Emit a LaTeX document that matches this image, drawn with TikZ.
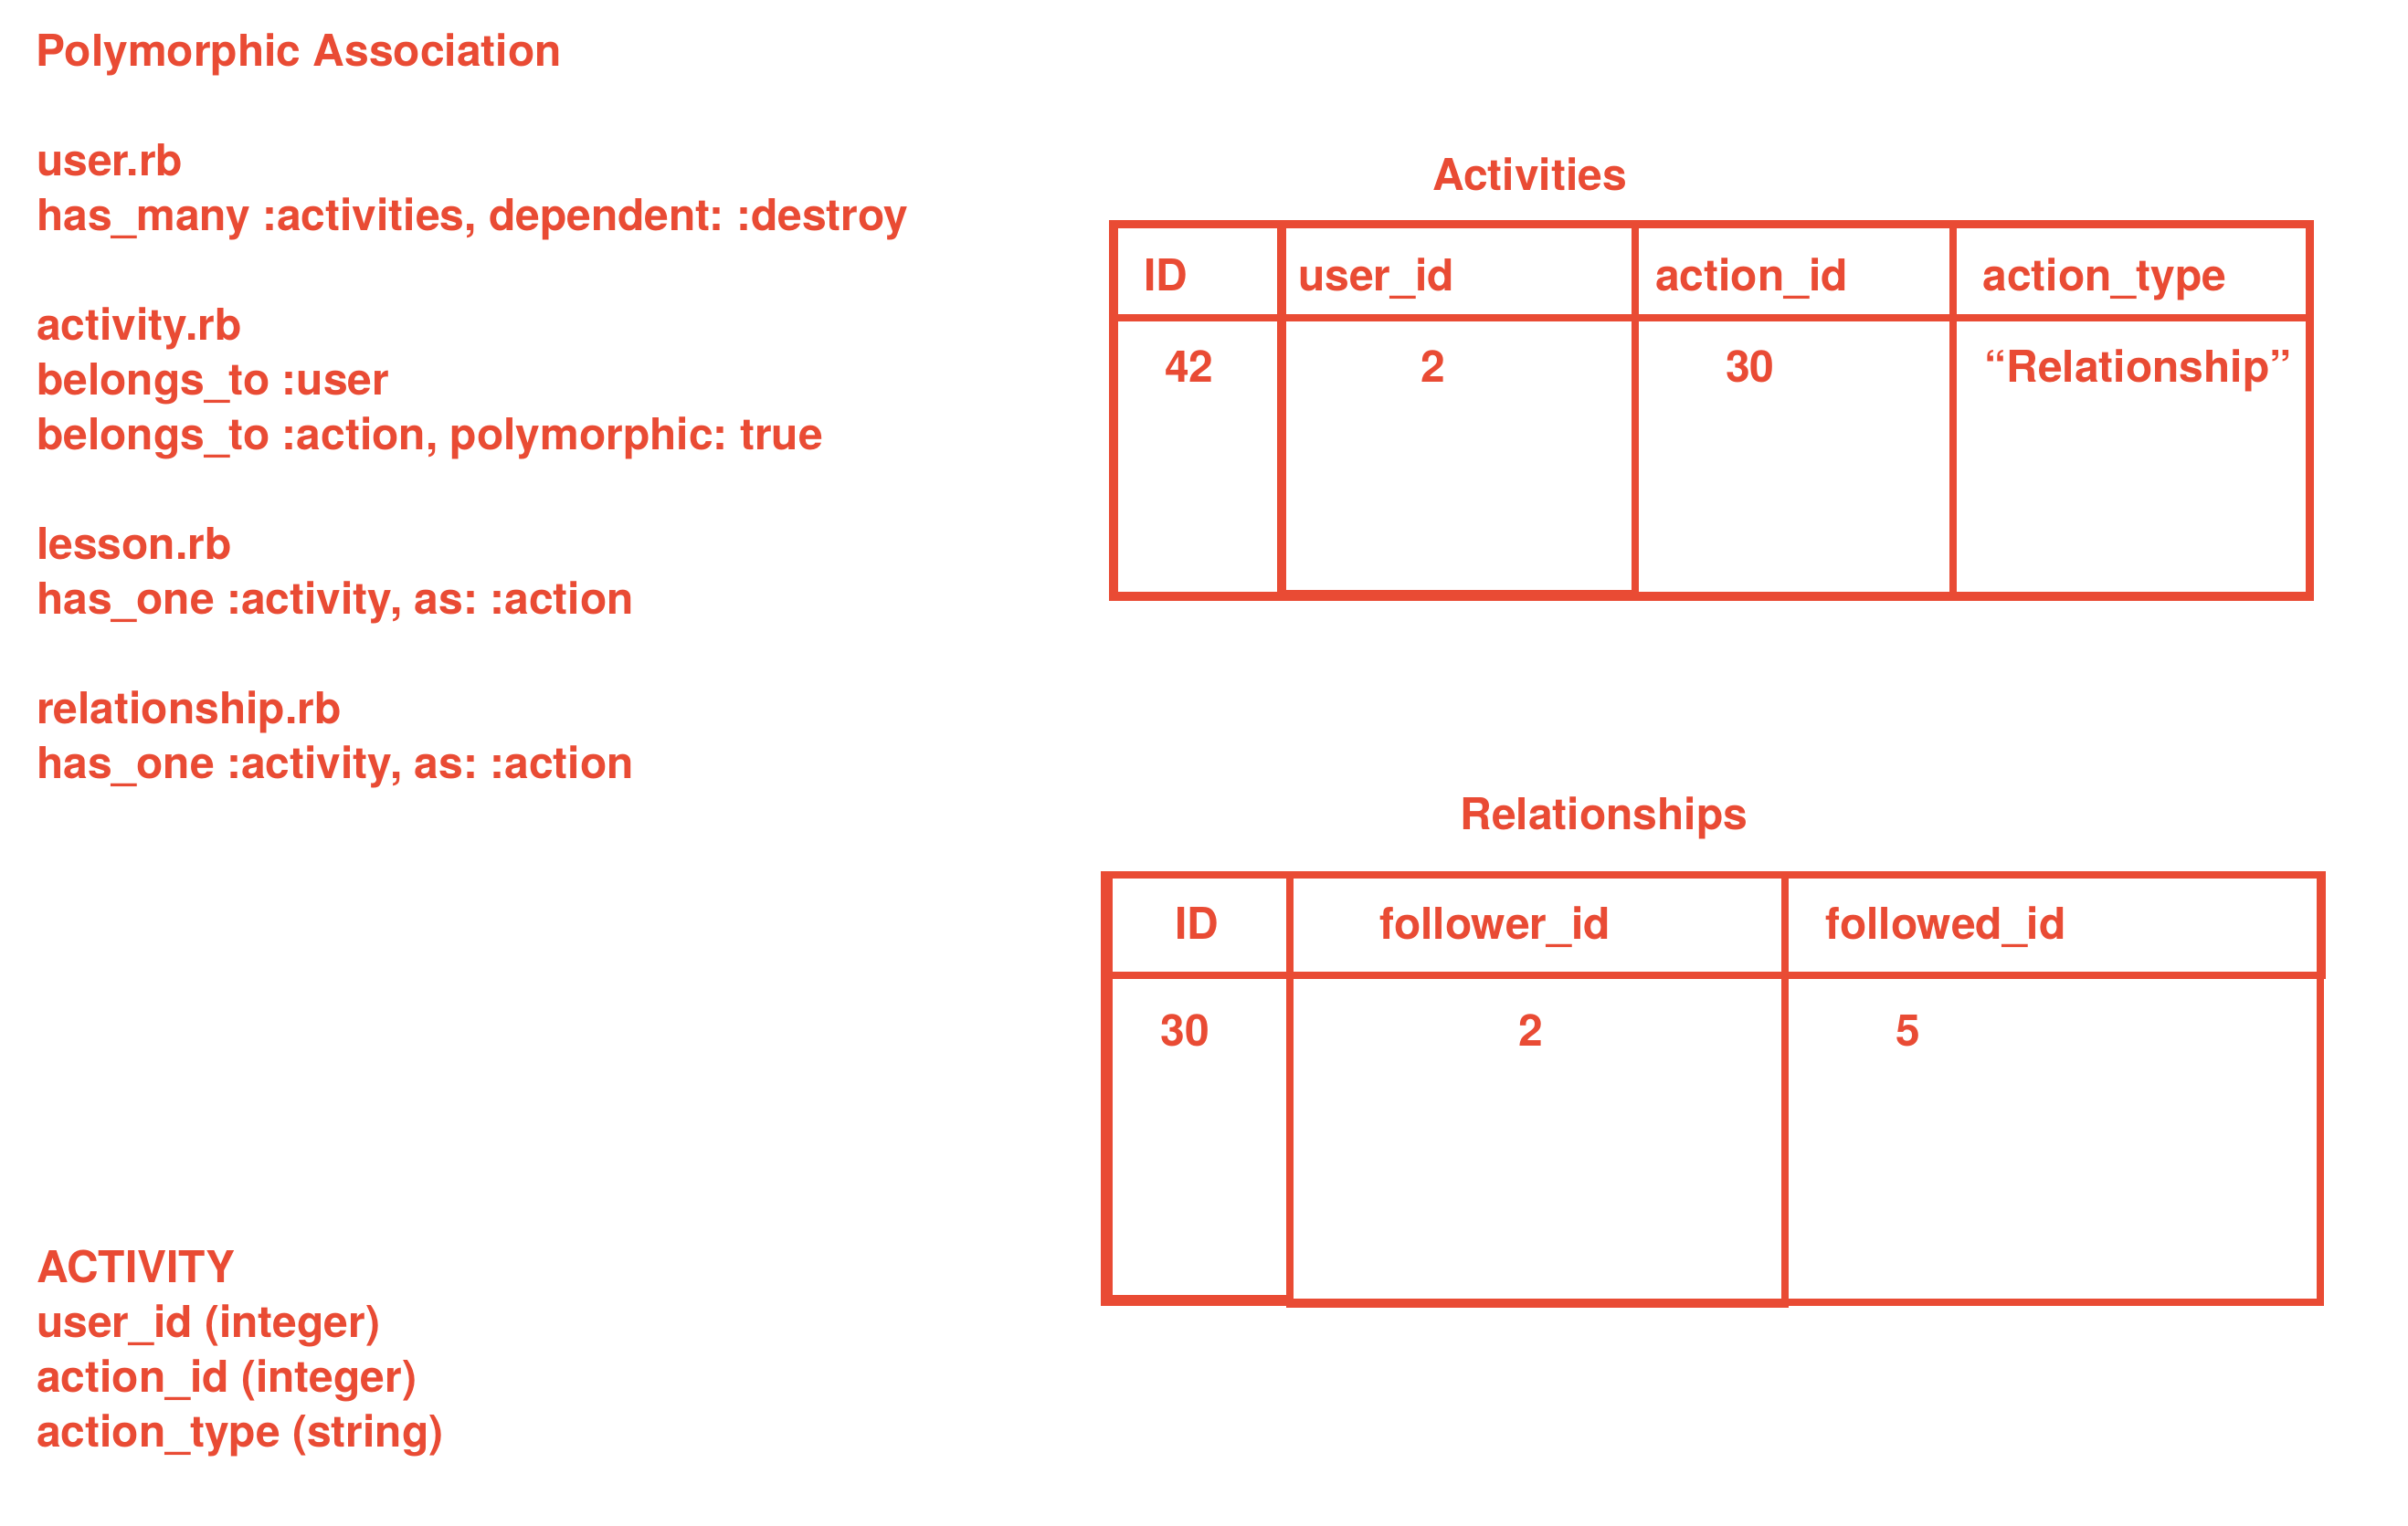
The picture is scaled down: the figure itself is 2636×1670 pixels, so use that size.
\documentclass[tikz,border=0pt]{standalone}
\usepackage{fontspec}
\setmainfont{TeX Gyre Heros}
\definecolor{ink}{RGB}{233,75,52}
\frenchspacing
\begin{document}
\begin{tikzpicture}[x=1pt,y=-1pt,
  txt/.style={anchor=base west,inner sep=0pt,outer sep=0pt,text=ink,
    font=\fontsize{48}{60}\selectfont\bfseries\frenchspacing},
  tbl/.style={fill=ink}]
\useasboundingbox[fill=white] (0,0) rectangle (2636,1670);

% ---- left column text ----
\node[txt] (t0)  at (39.5,72)  {Polymorphic Association};
\node[txt] (t1)  at (40,192)   {user.rb};
\node[txt] (t2)  at (40,252)   {has\_many :activities, dependent: :destroy};
\node[txt] (t3)  at (40,372)   {activity.rb};
\node[txt] (t4)  at (40,432)   {belongs\_to :user};
\node[txt] (t5)  at (40,492)   {belongs\_to :action, polymorphic: true};
\node[txt] (t6)  at (40,612)   {lesson.rb};
\node[txt] (t7)  at (40,672)   {has\_one :activity, as: :action};
\node[txt] (t8)  at (40,792)   {relationship.rb};
\node[txt] (t9)  at (40,852)   {has\_one :activity, as: :action};
\node[txt] (a0)  at (40,1404)  {ACTIVITY};
\node[txt] (a1)  at (40,1464)  {user\_id (integer)};
\node[txt] (a2)  at (40,1524)  {action\_id (integer)};
\node[txt] (a3)  at (40,1584)  {action\_type (string)};

% ---- Activities table ----
\node[txt] (actTitle) at (1568,208) {Activities};
\fill[tbl] (1214,240.5) rectangle (2533,249.6);
\fill[tbl] (1214,240.5) rectangle (1224,658);
\fill[tbl] (2524,240.5) rectangle (2533,658);
\fill[tbl] (1214,344) rectangle (2533,352);
\fill[tbl] (1398,240.5) rectangle (1408,658);
\fill[tbl] (1786,240.5) rectangle (1794,658);
\fill[tbl] (2134,240.5) rectangle (2141.5,658);
\fill[tbl] (1214,648) rectangle (2533,658);
\fill[tbl] (1408,645.5) rectangle (1786,650);
\node[txt] (ah1) at (1252.5,318) {ID};
\node[txt] (ah2) at (1421,318)   {user\_id};
\node[txt] (ah3) at (1812,318)   {action\_id};
\node[txt] (ah4) at (2170.5,318) {action\_type};
\node[txt] (ad1) at (1275,418)   {42};
\node[txt] (ad2) at (1555,418)   {2};
\node[txt] (ad3) at (1889,418)   {30};
\node[txt] (ad4) at (2172.5,418) {“Relationship”};

% ---- Relationships table ----
\node[txt] (relTitle) at (1598.5,908) {Relationships};
\fill[tbl] (1204.5,954) rectangle (2546,962);
\fill[tbl] (1204.5,954) rectangle (1218,1429.5);
\fill[tbl] (1408,954) rectangle (1416,1432);
\fill[tbl] (1950,954) rectangle (1958,1432);
\fill[tbl] (2536,954) rectangle (2546,1072);
\fill[tbl] (2536,1064) rectangle (2544,1429.5);
\fill[tbl] (1204.5,1064) rectangle (2546,1072);
\fill[tbl] (1204.5,1418) rectangle (1416,1429.5);
\fill[tbl] (1408,1422) rectangle (1958,1432);
\fill[tbl] (1950,1422) rectangle (2544,1429.5);
\node[txt] (rh1) at (1286,1028)   {ID};
\node[txt] (rh2) at (1510.5,1028) {follower\_id};
\node[txt] (rh3) at (1998.5,1028) {followed\_id};
\node[txt] (rd1) at (1270.5,1145) {30};
\node[txt] (rd2) at (1662,1145)   {2};
\node[txt] (rd3) at (2075,1145)   {5};
\end{tikzpicture}
\end{document}
